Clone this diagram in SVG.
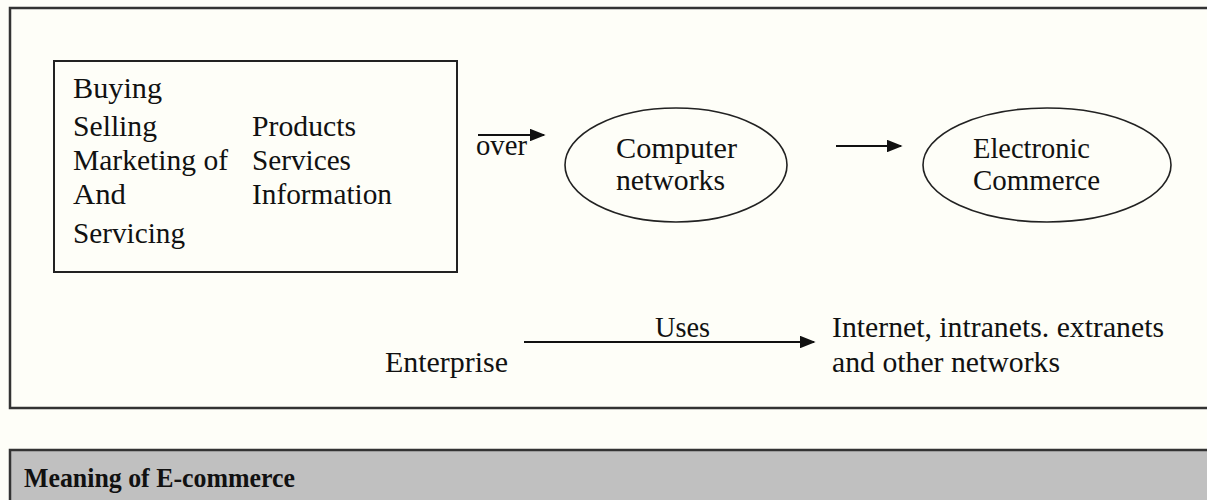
<svg xmlns="http://www.w3.org/2000/svg" width="1207" height="500" viewBox="0 0 1207 500">
  <defs>
    <marker id="head" viewBox="0 0 10 8" refX="9" refY="4" markerWidth="8" markerHeight="6.4" markerUnits="strokeWidth" orient="auto">
      <path d="M0,0 L10,4 L0,8 Z" fill="#111"/>
    </marker>
  </defs>
  <style>
    text { font-family: "Liberation Serif", "DejaVu Serif", serif; font-size: 29px; fill: #111; }
    .frame { fill: none; stroke: #333; stroke-width: 2.5; }
    .box { fill: none; stroke: #222; stroke-width: 2; }
    .oval { fill: none; stroke: #222; stroke-width: 1.6; }
    .link { stroke: #111; stroke-width: 2; fill: none; marker-end: url(#head); }
    .title { font-weight: bold; font-size: 28px; }
  </style>

  <!-- page background -->
  <rect x="0" y="0" width="1207" height="500" fill="#fefef8"/>

  <!-- outer frame -->
  <rect class="frame" x="10" y="8" width="1210" height="400"/>

  <!-- caption bar -->
  <g id="caption">
    <rect x="10" y="450" width="1210" height="60" fill="#c0c0c0" stroke="#333" stroke-width="2.5"/>
    <text class="title" x="24" y="487" textLength="271" lengthAdjust="spacingAndGlyphs">Meaning of E-commerce</text>
  </g>

  <!-- activities box -->
  <g id="activities">
    <rect class="box" x="54" y="61" width="403" height="211"/>
    <text x="73" y="98" textLength="89" lengthAdjust="spacingAndGlyphs">Buying</text>
    <text x="73" y="136" textLength="84" lengthAdjust="spacingAndGlyphs">Selling</text>
    <text x="73" y="170" textLength="155" lengthAdjust="spacingAndGlyphs">Marketing of</text>
    <text x="73" y="204" textLength="53" lengthAdjust="spacingAndGlyphs">And</text>
    <text x="73" y="243" textLength="112" lengthAdjust="spacingAndGlyphs">Servicing</text>
    <text x="252" y="136" textLength="104" lengthAdjust="spacingAndGlyphs">Products</text>
    <text x="252" y="170" textLength="99" lengthAdjust="spacingAndGlyphs">Services</text>
    <text x="252" y="204" textLength="140" lengthAdjust="spacingAndGlyphs">Information</text>
  </g>

  <!-- computer networks -->
  <g id="networks">
    <ellipse class="oval" cx="676" cy="165" rx="111" ry="57"/>
    <text x="616" y="158" textLength="121" lengthAdjust="spacingAndGlyphs">Computer</text>
    <text x="616" y="190" textLength="109" lengthAdjust="spacingAndGlyphs">networks</text>
  </g>

  <!-- electronic commerce -->
  <g id="ecommerce">
    <ellipse class="oval" cx="1047" cy="165" rx="124" ry="57"/>
    <text x="973" y="158" textLength="117" lengthAdjust="spacingAndGlyphs">Electronic</text>
    <text x="973" y="190" textLength="127" lengthAdjust="spacingAndGlyphs">Commerce</text>
  </g>

  <!-- enterprise -->
  <g id="enterprise">
    <text x="385" y="372" textLength="123" lengthAdjust="spacingAndGlyphs">Enterprise</text>
  </g>

  <!-- networks used -->
  <g id="internet">
    <text x="832" y="337" textLength="332" lengthAdjust="spacingAndGlyphs">Internet, intranets. extranets</text>
    <text x="832" y="372" textLength="228" lengthAdjust="spacingAndGlyphs">and other networks</text>
  </g>

  <!-- connectors -->
  <g id="connectors">
    <line class="link" x1="478" y1="135" x2="544" y2="135"/>
    <text x="476" y="155" textLength="51" lengthAdjust="spacingAndGlyphs">over</text>
    <line class="link" x1="836" y1="146" x2="901" y2="146"/>
    <line class="link" x1="524" y1="342" x2="814" y2="342"/>
    <text x="655" y="337" textLength="55" lengthAdjust="spacingAndGlyphs">Uses</text>
  </g>
</svg>
